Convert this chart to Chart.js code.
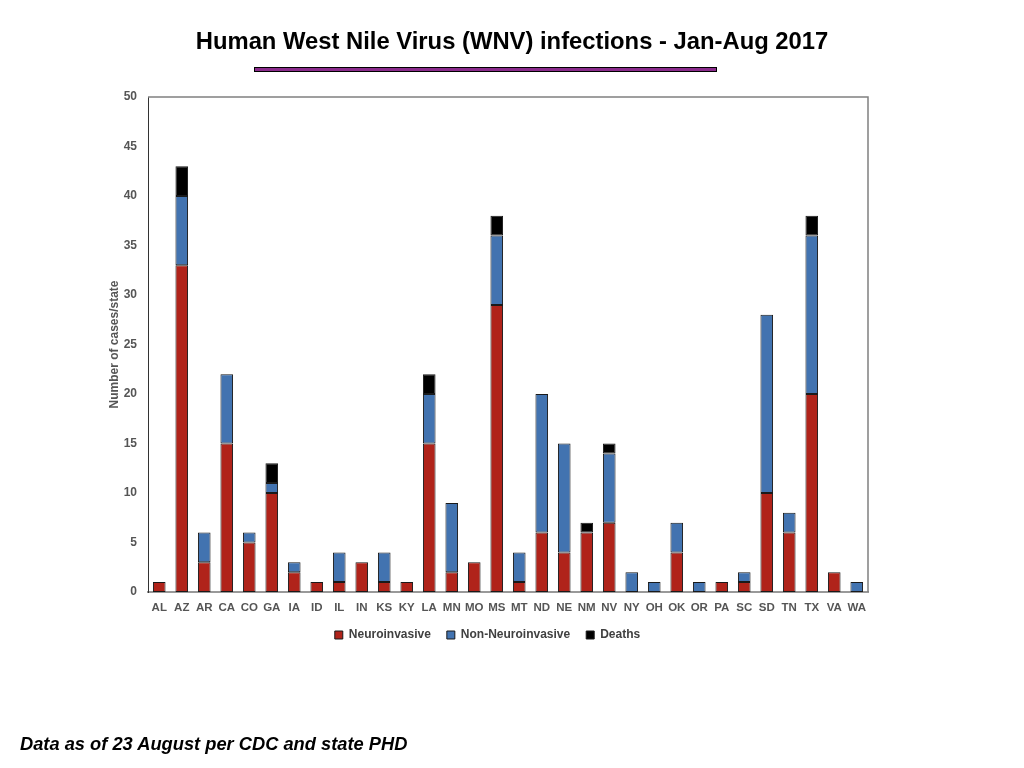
<!DOCTYPE html>
<html>
<head>
<meta charset="utf-8">
<script src="https://cdn.jsdelivr.net/npm/chart.js@4"></script>
<style>
  html, body { margin: 0; padding: 0; background: #fff; }
  body { width: 1024px; height: 768px; position: relative; overflow: hidden; font-family: "Liberation Sans", Arial, sans-serif; }
  #title { position: absolute; left: 0; width: 1024px; top: 27px; text-align: center; font-weight: bold; font-size: 23.8px; color: #000; }
  #rule { position: absolute; left: 254px; top: 67px; width: 461px; height: 3px; background: #8b2c8c; border: 1.5px solid #000; }
  #note { position: absolute; left: 20px; top: 733px; font-weight: bold; font-style: italic; font-size: 18.3px; color: #000; }
  #wrap { position: absolute; left: 0; top: 0; width: 1024px; height: 768px; }
</style>
</head>
<body>
<div id="wrap"><canvas id="wnvChart"></canvas></div>
<div id="title">Human West Nile Virus (WNV) infections - Jan-Aug 2017</div>
<div id="rule"></div>
<div id="note">Data as of 23 August per CDC and state PHD</div>
<script>
// Data
const states = ['AL', 'AZ', 'AR', 'CA', 'CO', 'GA', 'IA', 'ID', 'IL', 'IN', 'KS', 'KY', 'LA', 'MN', 'MO', 'MS',
    'MT', 'ND', 'NE', 'NM', 'NV', 'NY', 'OH', 'OK', 'OR', 'PA', 'SC', 'SD', 'TN', 'TX', 'VA', 'WA'];
const neuroinvasive = [1, 33, 3, 15, 5, 10, 2, 1, 1, 3, 1, 1, 15, 2, 3, 29,
    1, 6, 4, 6, 7, 0, 0, 4, 0, 1, 1, 10, 6, 20, 2, 0];
const nonNeuroinvasive = [0, 7, 3, 7, 1, 1, 1, 0, 3, 0, 3, 0, 5, 7, 0, 7,
    3, 14, 11, 0, 7, 2, 1, 3, 1, 0, 1, 18, 2, 16, 0, 1];
const deaths = [0, 3, 0, 0, 0, 2, 0, 0, 0, 0, 0, 0, 2, 0, 0, 2,
    0, 0, 0, 1, 1, 0, 0, 0, 0, 0, 0, 0, 0, 2, 0, 0];
const yTicks = [0, 5, 10, 15, 20, 25, 30, 35, 40, 45, 50];

// zero values are left out so no empty bar outline is drawn
const skipZero = arr => arr.map(v => v === 0 ? null : v);

// Box round the plot area (top and right sides)
const frame = {
    id: 'frame',
    afterDatasetsDraw(chart) {
        const a = chart.chartArea;
        const ctx = chart.ctx;
        ctx.save();
        ctx.strokeStyle = '#808080';
        ctx.lineWidth = 1.5;
        ctx.beginPath();
        ctx.moveTo(a.left, a.top);
        ctx.lineTo(a.right, a.top);
        ctx.lineTo(a.right, a.bottom);
        ctx.stroke();
        ctx.restore();
    }
};

const barStyle = { borderColor: '#1a1a1a', borderWidth: 1, borderSkipped: false, barPercentage: 0.56, categoryPercentage: 1 };

new Chart(document.getElementById('wnvChart').getContext('2d'), {
    type: 'bar',
    data: {
        labels: states,
        datasets: [
            { label: 'Neuroinvasive', data: skipZero(neuroinvasive), backgroundColor: '#b0231a', ...barStyle },
            { label: 'Non-Neuroinvasive', data: skipZero(nonNeuroinvasive), backgroundColor: '#4273b0', ...barStyle },
            { label: 'Deaths', data: skipZero(deaths), backgroundColor: '#000000', ...barStyle }
        ]
    },
    options: {
        responsive: true,
        maintainAspectRatio: false,
        animation: false,
        layout: { padding: { left: 107, top: 97, right: 156, bottom: 117 } },
        plugins: {
            legend: {
                position: 'bottom',
                labels: {
                    boxWidth: 8,
                    boxHeight: 8,
                    padding: 16,
                    color: '#404040',
                    font: { family: 'Liberation Sans', size: 12, weight: 'bold' }
                }
            },
            tooltip: { enabled: false }
        },
        scales: {
            x: {
                stacked: true,
                grid: { display: false, drawTicks: false },
                border: { color: '#999999', width: 2 },
                ticks: { color: '#555555', padding: 9, maxRotation: 0, autoSkip: false,
                    font: { family: 'Liberation Sans', size: 11.5, weight: 'bold' } },
                afterFit(scale) { scale.height = 21; }
            },
            y: {
                stacked: true,
                min: 0,
                max: 50,
                afterBuildTicks(scale) { scale.ticks = yTicks.map(v => ({ value: v })); },
                grid: { display: false, drawTicks: false },
                border: { color: '#333333', width: 1 },
                ticks: { color: '#555555', padding: 11,
                    font: { family: 'Liberation Sans', size: 12, weight: 'bold' } },
                title: { display: true, text: 'Number of cases/state', color: '#555555', padding: { top: 0, bottom: 0 },
                    font: { family: 'Liberation Sans', size: 12, weight: 'bold' } },
                afterFit(scale) { scale.width = 41; }
            }
        }
    },
    plugins: [frame]
});
</script>
</body>
</html>
